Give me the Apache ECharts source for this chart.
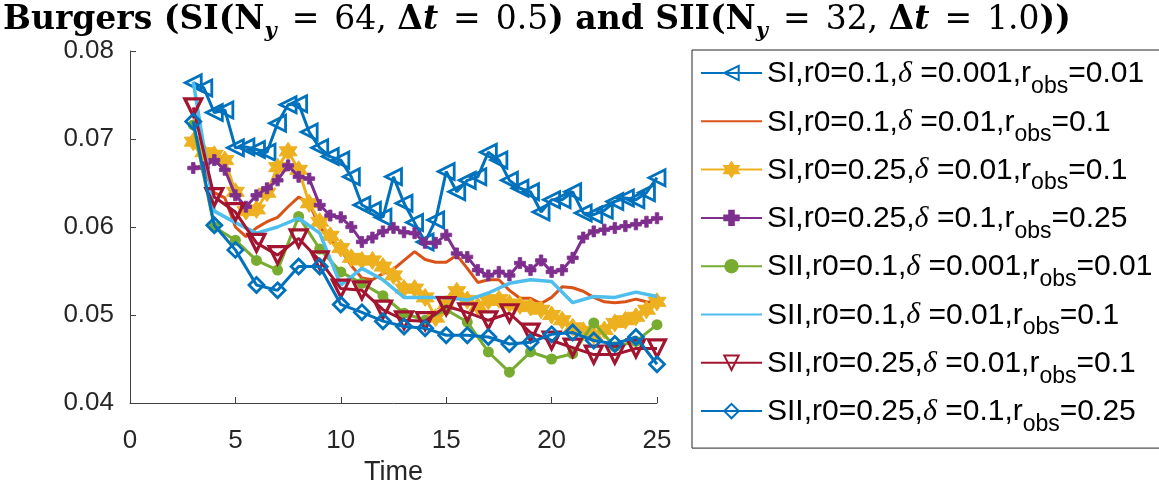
<!DOCTYPE html>
<html>
<head>
<meta charset="utf-8">
<script src="https://cdn.jsdelivr.net/npm/echarts@6/dist/echarts.min.js"></script>
<style>
html,body{margin:0;padding:0;background:#fff;}
#chart{width:1159px;height:492px;}
</style>
</head>
<body>
<div id="chart"></div>
<script>
// ---- time axes ----
const tSI = [3,3.5,4,4.5,5,5.5,6,6.5,7,7.5,8,8.5,9,9.5,10,10.5,11,11.5,12,12.5,13,13.5,14,14.5,15,15.5,16,16.5,17,17.5,18,18.5,19,19.5,20,20.5,21,21.5,22,22.5,23,23.5,24,24.5,25];
const tSII = [3,4,5,6,7,8,9,10,11,12,13,14,15,16,17,18,19,20,21,22,23,24,25];

// ---- SI series (dt = 0.5) ----
const SI_r01_d0001 = [0.0764,0.0758,0.0730,0.0733,0.0690,0.0691,0.0688,0.0685,0.0718,0.0739,0.0740,0.0708,0.0690,0.0680,0.0676,0.0657,0.0625,0.0619,0.0611,0.0657,0.0627,0.0605,0.0583,0.0608,0.0663,0.0640,0.0653,0.0657,0.0685,0.0676,0.0653,0.0644,0.0640,0.0617,0.0631,0.0631,0.0640,0.0616,0.0614,0.0619,0.0629,0.0633,0.0631,0.0639,0.0656];
const SI_r01_d001 = [0.0670,0.0665,0.0639,0.0633,0.0600,0.0589,0.0599,0.0606,0.0611,0.0623,0.0634,0.0627,0.0600,0.0585,0.0574,0.0556,0.0542,0.0540,0.0547,0.0552,0.0562,0.0572,0.0563,0.0560,0.0560,0.0568,0.0553,0.0537,0.0540,0.0540,0.0528,0.0519,0.0519,0.0513,0.0520,0.0532,0.0531,0.0527,0.0520,0.0515,0.0514,0.0515,0.0518,0.0515,0.0514];
const SI_r025_d001 = [0.0697,0.0685,0.0682,0.0676,0.0640,0.0618,0.0620,0.0639,0.0668,0.0686,0.0665,0.0627,0.0606,0.0590,0.0576,0.0565,0.0562,0.0562,0.0555,0.0545,0.0530,0.0530,0.0520,0.0497,0.0512,0.0527,0.0517,0.0510,0.0516,0.0518,0.0513,0.0511,0.0509,0.0506,0.0500,0.0494,0.0486,0.0482,0.0477,0.0483,0.0491,0.0494,0.0498,0.0506,0.0515];
const SI_r025_d01 = [0.0667,0.0668,0.0676,0.0665,0.0636,0.0623,0.0636,0.0644,0.0653,0.0670,0.0657,0.0655,0.0625,0.0613,0.0611,0.0600,0.0583,0.0588,0.0595,0.0599,0.0594,0.0593,0.0582,0.0582,0.0591,0.0570,0.0566,0.0551,0.0545,0.0549,0.0545,0.0559,0.0551,0.0562,0.0549,0.0551,0.0565,0.0588,0.0595,0.0597,0.0599,0.0601,0.0603,0.0606,0.0610];

// ---- SII series (dt = 1.0) ----
const SII_r01_d0001 = [0.0716,0.0600,0.0585,0.0562,0.0551,0.0612,0.0575,0.0549,0.0536,0.0522,0.0502,0.0494,0.0506,0.0492,0.0458,0.0435,0.0458,0.0450,0.0456,0.0491,0.0464,0.0470,0.0489];
const SII_r01_d001 = [0.0765,0.0618,0.0605,0.0593,0.0600,0.0610,0.0593,0.0534,0.0553,0.0540,0.0520,0.0520,0.0520,0.0517,0.0525,0.0536,0.0540,0.0538,0.0514,0.0521,0.0520,0.0526,0.0521];
const SII_r025_d001 = [0.0736,0.0634,0.0617,0.0582,0.0568,0.0587,0.0562,0.0530,0.0528,0.0506,0.0494,0.0493,0.0510,0.0503,0.0494,0.0502,0.0480,0.0471,0.0463,0.0455,0.0455,0.0462,0.0462];
const SII_r025_d01 = [0.0720,0.0602,0.0574,0.0534,0.0528,0.0555,0.0555,0.0512,0.0503,0.0493,0.0487,0.0485,0.0477,0.0477,0.0475,0.0467,0.0469,0.0478,0.0480,0.0471,0.0467,0.0475,0.0444];

// ---- legend label parts ----
const labelPre = ['SI,r0=0.1,','SI,r0=0.1,','SI,r0=0.25,','SI,r0=0.25,','SII,r0=0.1,','SII,r0=0.1,','SII,r0=0.25,','SII,r0=0.25,'];
const labelDelta = ['0.001','0.01','0.01','0.1','0.001','0.01','0.01','0.1'];
const labelRobs = ['0.01','0.1','0.1','0.25','0.01','0.1','0.1','0.25'];

// ---- axis ticks ----
const xTicks = [0,5,10,15,20,25];
const yTicks = [0.04,0.05,0.06,0.07,0.08];

const colors = ['#0072BD','#D95319','#EDB120','#7E2F8E','#77AC30','#4DBEEE','#A2142F','#0072BD'];
const names = labelPre.map((p,i)=> p + 'δ =' + labelDelta[i] + ',r_obs=' + labelRobs[i]);

const pairs = (t, v) => t.map((x,i)=>[x, v[i]]);

const TRI_LEFT = 'path://M0,5 L9,0 L9,10 Z';
const TRI_DOWN = 'path://M0,0 L10,0 L5,9 Z';
const STAR6 = 'path://M5,0 L6.44,2.5 L9.33,2.5 L7.89,5 L9.33,7.5 L6.44,7.5 L5,10 L3.56,7.5 L0.67,7.5 L2.11,5 L0.67,2.5 L3.56,2.5 Z';
const PLUS = 'path://M3.4,0 H6.6 V3.4 H10 V6.6 H6.6 V10 H3.4 V6.6 H0 V3.4 H3.4 Z';

function mk(i, t, v, sym, opts) {
  return Object.assign({
    name: names[i], type: 'line', data: pairs(t, v),
    symbol: sym, symbolSize: 14, showSymbol: sym !== 'none',
    lineStyle: {color: colors[i], width: 3},
    itemStyle: {color: colors[i], borderColor: colors[i], borderWidth: 0},
    color: colors[i], animation: false, z: 2 + i
  }, opts || {});
}

const series = [
  mk(0, tSI, SI_r01_d0001, TRI_LEFT, {symbolSize: 16, itemStyle: {color: 'rgba(255,255,255,0)', borderColor: colors[0], borderWidth: 2.8}}),
  mk(1, tSI, SI_r01_d001, 'none'),
  mk(2, tSI, SI_r025_d001, STAR6, {symbolSize: 18, itemStyle: {color: colors[2], borderColor: colors[2], borderWidth: 1}}),
  mk(3, tSI, SI_r025_d01, PLUS, {symbolSize: 11, itemStyle: {color: colors[3], borderColor: colors[3], borderWidth: 0.8}}),
  mk(4, tSII, SII_r01_d0001, 'circle', {symbolSize: 11, itemStyle: {color: colors[4], borderColor: colors[4], borderWidth: 0}}),
  mk(5, tSII, SII_r01_d001, 'none', {lineStyle: {color: colors[5], width: 3.5}}),
  mk(6, tSII, SII_r025_d001, TRI_DOWN, {symbolSize: 17, itemStyle: {color: 'rgba(255,255,255,0)', borderColor: colors[6], borderWidth: 3.2}}),
  mk(7, tSII, SII_r025_d01, 'diamond', {symbolSize: 15, itemStyle: {color: 'rgba(255,255,255,0)', borderColor: colors[7], borderWidth: 2.8}})
];

const legendData = names.map((n,i)=> (i===1 || i===5) ? {name: n, itemStyle: {opacity: 0}} : {name: n});

const T = {fontFamily: 'DejaVu Serif', fontSize: 33, color: '#000', lineHeight: 34, verticalAlign: 'top'};
const chart = echarts.init(document.getElementById('chart'), null, {renderer: 'canvas'});
chart.setOption({
  backgroundColor: '#fff',
  animation: false,
  title: {
    text: '{b|Burgers (SI(N}{s|y}{e|=}{m|64, }{b|Δ}{i|t}{e|=}{m|0.5}{b|) and SII(N}{s|y}{e|=}{m|32, }{b|Δ}{i|t}{e|=}{m|1.0}{b|))}',
    left: 3, top: 4, padding: 0,
    textStyle: {
      rich: {
        b: Object.assign({}, T, {fontWeight: 'bold'}),
        m: Object.assign({}, T, {fontWeight: 'normal'}),
        e: Object.assign({}, T, {fontWeight: 'normal', padding: [0, 15, 0, 15]}),
        i: Object.assign({}, T, {fontStyle: 'italic'}),
        s: {fontFamily: 'DejaVu Serif', fontStyle: 'italic', fontSize: 21, color: '#000', lineHeight: 22, padding: [17,0,0,0], verticalAlign: 'top'}
      }
    }
  },
  grid: {left: 130, right: 502, top: 51, bottom: 89, containLabel: false},
  xAxis: {
    type: 'value', min: 0, max: 25, interval: 5,
    name: 'Time', nameLocation: 'middle', nameGap: 56,
    nameTextStyle: {fontFamily: 'Liberation Sans', fontSize: 27, color: '#262626'},
    axisLine: {show: true, lineStyle: {color: '#404040', width: 1}},
    axisTick: {show: true, inside: true, length: 6, lineStyle: {color: '#404040'}},
    axisLabel: {fontFamily: 'Liberation Sans', fontSize: 26, color: '#262626', margin: 25,
      formatter: v => xTicks.includes(v) ? String(v) : ''},
    splitLine: {show: false}
  },
  yAxis: {
    type: 'value', min: 0.04, max: 0.08, interval: 0.01,
    axisLine: {show: true, lineStyle: {color: '#404040', width: 1}},
    axisTick: {show: true, inside: true, length: 6, lineStyle: {color: '#404040'}},
    axisLabel: {fontFamily: 'Liberation Sans', fontSize: 26, color: '#262626', margin: 16,
      formatter: v => { const r = yTicks.find(y => Math.abs(y - v) < 1e-9); return r !== undefined ? r.toFixed(2) : ''; }},
    splitLine: {show: false}
  },
  legend: {
    data: legendData,
    orient: 'vertical', left: 692, top: 50,
    padding: [9, 10, 0, 8],
    itemWidth: 61, itemHeight: 18, itemGap: -2.7,
    borderColor: '#262626', borderWidth: 1,
    backgroundColor: '#fff',
    selectedMode: false,
    formatter: function (name) {
      const m = name.match(/^(.*?)δ =(.*?),r_obs=(.*)$/);
      return '{a|' + m[1] + '}{d|δ}{a| =' + m[2] + ',r}{s|obs}{a|=' + m[3] + '}';
    },
    textStyle: {
      rich: {
        a: {fontFamily: 'Liberation Sans', fontSize: 30, color: '#000', lineHeight: 28, verticalAlign: 'top'},
        d: {fontFamily: 'Liberation Serif', fontStyle: 'italic', fontSize: 30, color: '#000', lineHeight: 28, verticalAlign: 'top'},
        s: {fontFamily: 'Liberation Sans', fontSize: 23, color: '#000', lineHeight: 24, padding: [16,0,12,0], verticalAlign: 'top'}
      }
    }
  },
  series: series
});
</script>
</body>
</html>
